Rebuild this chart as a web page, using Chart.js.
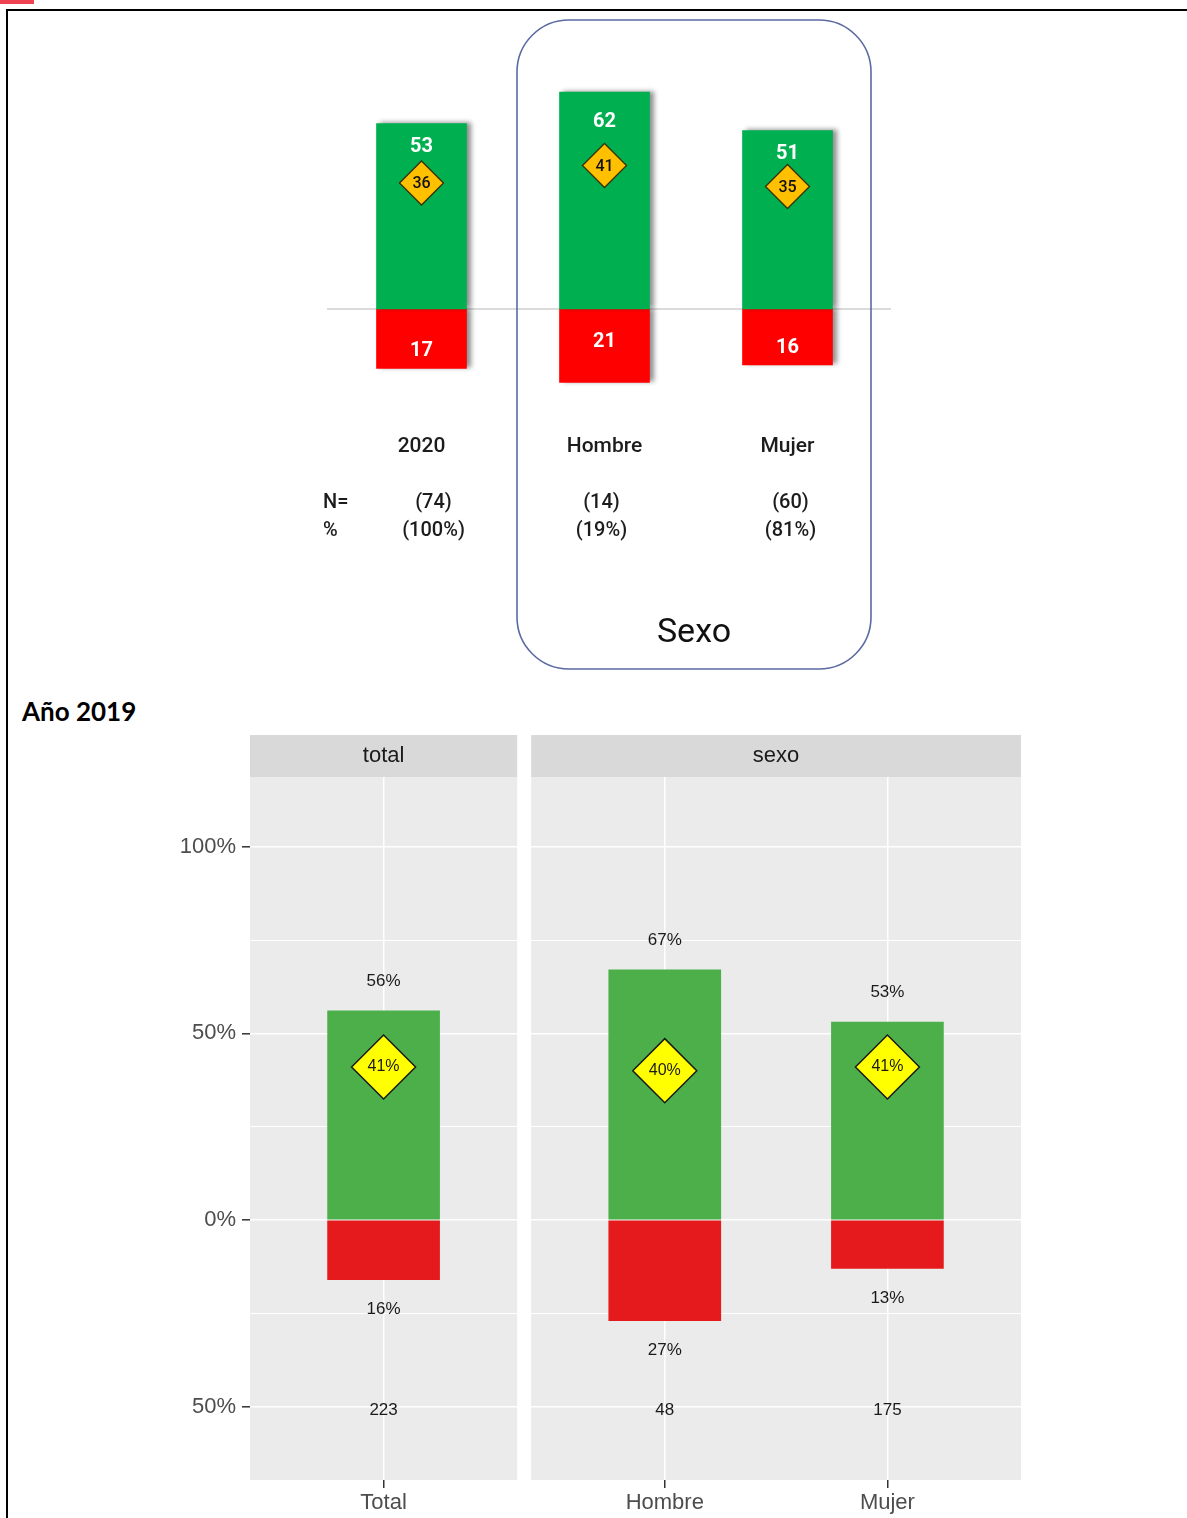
<!DOCTYPE html>
<html>
<head>
<meta charset="utf-8">
<script src="https://cdn.jsdelivr.net/npm/chart.js@4.4.0/dist/chart.umd.min.js"></script>
<style>
  html, body { margin: 0; padding: 0; background: #ffffff; }
  body { width: 1187px; height: 1518px; position: relative; overflow: hidden; }
  .abs { position: absolute; }
  #title2019 { left: 22px; top: 695px; font-family: Lato, "Open Sans", sans-serif; font-weight: bold;
               font-size: 26px; line-height: 32px; color: #000; white-space: nowrap; }
</style>
</head>
<body>
<div class="abs" style="left:0;top:0;width:34px;height:4px;background:#ef4352"></div>
<div class="abs" style="left:6px;top:9px;width:1181px;height:2px;background:#000"></div>
<div class="abs" style="left:6px;top:9px;width:2px;height:1509px;background:#000"></div>
<canvas id="c2020" class="abs" style="left:0;top:0" width="1187" height="690"></canvas>
<div id="title2019" class="abs">Año 2019</div>
<canvas id="c2019" class="abs" style="left:0;top:690px" width="1187" height="828"></canvas>
<script>
// ---------------- DATA: 2020 ----------------
const topCategories = ['2020', 'Hombre', 'Mujer'];
const topFavorable = [53, 62, 51];
const topUnfavorable = [17, 21, 16];
const topDiamond = [36, 41, 35];
const topN = [74, 14, 60];
const topShare = [100, 19, 81];
const topGroupTitle = 'Sexo';

// ---------------- DATA: 2019 ----------------
const cats2019 = ['Total', 'Hombre', 'Mujer'];
const facetOf2019 = [0, 1, 1];
const facetNames2019 = ['total', 'sexo'];
const fav2019 = [56, 67, 53];
const unfav2019 = [16, 27, 13];
const diamond2019 = [41, 40, 41];
const n2019 = [223, 48, 175];
const yTicks2019 = [-50, -25, 0, 25, 50, 75, 100];

// ---------------- LAYOUT (2020) ----------------
const TOP = { W: 1187, H: 690, left: 330, right: 879, top: 64, bottom: 414 };
const greenLabelDy = [23, 30, 23];
const redLabelDy = [-18, -41, -17];
const nColDx = [12, -3, 3];
const topFont = 'Roboto, "Noto Sans", sans-serif';
const topText = '#1c1c1c';

const topPlugin = {
  id: 'topDeco',
  beforeDatasetsDraw(chart) {
    const ctx = chart.ctx;
    const y0 = chart.scales.y.getPixelForValue(0);
    ctx.save();
    ctx.strokeStyle = '#cfcfcf';
    ctx.lineWidth = 1.5;
    ctx.beginPath();
    ctx.moveTo(chart.chartArea.left - 3, y0);
    ctx.lineTo(chart.chartArea.right + 12, y0);
    ctx.stroke();
    ctx.restore();
  },
  beforeDatasetDraw(chart, args) {
    if (args.index < 2) {
      const c = chart.ctx;
      c.save();
      c.shadowColor = 'rgba(0,0,0,0.45)';
      c.shadowBlur = 5;
      c.shadowOffsetX = 4;
      c.shadowOffsetY = -1;
    }
  },
  afterDatasetDraw(chart, args) {
    if (args.index < 2) chart.ctx.restore();
  },
  afterDraw(chart) {
    const { ctx, chartArea: a, scales: { x, y } } = chart;
    ctx.save();
    ctx.textAlign = 'center';
    ctx.textBaseline = 'middle';
    topCategories.forEach((cat, i) => {
      const px = x.getPixelForValue(i);
      ctx.fillStyle = '#ffffff';
      ctx.font = 'bold 20px ' + topFont;
      ctx.fillText(String(topFavorable[i]), px, y.getPixelForValue(topFavorable[i]) + greenLabelDy[i]);
      ctx.fillText(String(topUnfavorable[i]), px, y.getPixelForValue(-topUnfavorable[i]) + redLabelDy[i]);
      ctx.fillStyle = '#111111';
      ctx.font = '500 16px ' + topFont;
      ctx.fillText(String(topDiamond[i]), px, y.getPixelForValue(topDiamond[i]) + 1);
      ctx.fillStyle = topText;
      ctx.font = '500 21px ' + topFont;
      ctx.fillText(cat, px, a.bottom + 33);
      ctx.font = '500 20px ' + topFont;
      ctx.fillText('(' + topN[i] + ')', px + nColDx[i], a.bottom + 89);
      ctx.fillText('(' + topShare[i] + '%)', px + nColDx[i], a.bottom + 117);
    });
    ctx.textAlign = 'left';
    ctx.fillText('N=', 323, a.bottom + 89);
    ctx.fillText('%', 323, a.bottom + 117);
    const bx = 517, by = 20, bw = 354, bh = 649, r = 52;
    ctx.strokeStyle = '#5b6aa3';
    ctx.lineWidth = 1.6;
    ctx.beginPath();
    ctx.moveTo(bx + r, by);
    ctx.lineTo(bx + bw - r, by);
    ctx.arcTo(bx + bw, by, bx + bw, by + r, r);
    ctx.lineTo(bx + bw, by + bh - r);
    ctx.arcTo(bx + bw, by + bh, bx + bw - r, by + bh, r);
    ctx.lineTo(bx + r, by + bh);
    ctx.arcTo(bx, by + bh, bx, by + bh - r, r);
    ctx.lineTo(bx, by + r);
    ctx.arcTo(bx, by, bx + r, by, r);
    ctx.closePath();
    ctx.stroke();
    ctx.textAlign = 'center';
    ctx.fillStyle = '#111111';
    ctx.font = '400 34px ' + topFont;
    ctx.fillText(topGroupTitle, bx + bw / 2, 633);
    ctx.restore();
  }
};

new Chart(document.getElementById('c2020'), {
  type: 'bar',
  data: {
    labels: topCategories,
    datasets: [
      { data: topFavorable, backgroundColor: '#00b050', barThickness: 90, grouped: false, order: 2 },
      { data: topUnfavorable.map(v => -v), backgroundColor: '#ff0000', barThickness: 90, grouped: false, order: 2 },
      { type: 'line', data: topDiamond, showLine: false, pointStyle: 'rectRot', pointRadius: 22,
        pointBackgroundColor: '#ffc000', pointBorderColor: '#3a2e00', pointBorderWidth: 1.3, order: 1 }
    ]
  },
  options: {
    responsive: false, animation: false, devicePixelRatio: 1, events: [],
    layout: { padding: { left: TOP.left, right: TOP.W - TOP.right, top: TOP.top, bottom: TOP.H - TOP.bottom } },
    plugins: { legend: { display: false }, tooltip: { enabled: false } },
    scales: {
      x: { display: false },
      y: { display: false, min: -30, max: 70 }
    }
  },
  plugins: [topPlugin]
});

// ---------------- LAYOUT (2019) ----------------
const B = { W: 1187, H: 828, left: 250, right: 1021, top: 87, yAxisW: 100, xAxisH: 38 };
const PX_PER_UNIT = 222.6;
const GAP_UNITS = 14 / PX_PER_UNIT;
const EXPAND = 0.6;
const FACET_SHIFT = 2 * EXPAND - 1 + GAP_UNITS;
const x2019 = cats2019.map((c, i) => i + facetOf2019[i] * FACET_SHIFT);
const Y_MIN = -69.65, Y_MAX = 118.67;
const LABEL_OFFSET = 8;
const N_LABEL_Y = -51;
const ggFont = '"Liberation Sans", Arial, sans-serif';

const bottomPlugin = {
  id: 'facets',
  beforeDraw(chart) {
    const { ctx, chartArea: a, scales: { x } } = chart;
    ctx.save();
    facetNames2019.forEach((name, f) => {
      const xs = x2019.filter((_, i) => facetOf2019[i] === f);
      const l = x.getPixelForValue(Math.min(...xs) - EXPAND);
      const r = x.getPixelForValue(Math.max(...xs) + EXPAND);
      ctx.fillStyle = '#ebebeb';
      ctx.fillRect(l, a.top, r - l, a.bottom - a.top);
      ctx.fillStyle = '#d9d9d9';
      ctx.fillRect(l, a.top - 42, r - l, 42);
      ctx.fillStyle = '#1a1a1a';
      ctx.font = '22px ' + ggFont;
      ctx.textAlign = 'center';
      ctx.textBaseline = 'middle';
      ctx.fillText(name, (l + r) / 2, a.top - 21);
    });
    ctx.restore();
  },
  afterDatasetsDraw(chart) {
    const { ctx, scales: { x, y } } = chart;
    ctx.save();
    ctx.textAlign = 'center';
    ctx.textBaseline = 'middle';
    ctx.fillStyle = '#1a1a1a';
    x2019.forEach((xv, i) => {
      const px = x.getPixelForValue(xv);
      ctx.font = '17px ' + ggFont;
      ctx.fillText(fav2019[i] + '%', px, y.getPixelForValue(fav2019[i] + LABEL_OFFSET));
      ctx.fillText(unfav2019[i] + '%', px, y.getPixelForValue(-unfav2019[i] - LABEL_OFFSET));
      ctx.fillText(String(n2019[i]), px, y.getPixelForValue(N_LABEL_Y));
      ctx.font = '16px ' + ggFont;
      ctx.fillText(diamond2019[i] + '%', px, y.getPixelForValue(diamond2019[i]));
    });
    ctx.restore();
  }
};

const isMajor = v => v % 50 === 0;

new Chart(document.getElementById('c2019'), {
  type: 'bar',
  data: {
    datasets: [
      { data: x2019.map((xv, i) => ({ x: xv, y: fav2019[i] })), backgroundColor: '#4daf4a',
        barThickness: 112, grouped: false, order: 2 },
      { data: x2019.map((xv, i) => ({ x: xv, y: -unfav2019[i] })), backgroundColor: '#e41a1c',
        barThickness: 112, grouped: false, order: 2 },
      { type: 'scatter', data: x2019.map((xv, i) => ({ x: xv, y: diamond2019[i] })), pointStyle: 'rectRot',
        pointRadius: 32, backgroundColor: '#ffff00', borderColor: '#1a1a1a', borderWidth: 1.5, order: 1 }
    ]
  },
  options: {
    responsive: false, animation: false, devicePixelRatio: 1, events: [],
    layout: { padding: { left: B.left - B.yAxisW, right: B.W - B.right, top: B.top, bottom: 0 } },
    plugins: { legend: { display: false }, tooltip: { enabled: false } },
    scales: {
      x: {
        type: 'linear', offset: false,
        min: x2019[0] - EXPAND, max: x2019[x2019.length - 1] + EXPAND,
        afterBuildTicks: s => { s.ticks = x2019.map(v => ({ value: v })); },
        afterFit: s => { s.height = B.xAxisH; },
        ticks: { autoSkip: false, maxRotation: 0, minRotation: 0, padding: 2, color: '#4d4d4d',
                 font: { family: ggFont, size: 22 }, callback: (v, i) => cats2019[i] },
        grid: { offset: false, color: '#ffffff', lineWidth: 1.5, tickColor: '#333333', tickLength: 8, tickWidth: 1.5 },
        border: { display: false }
      },
      y: {
        type: 'linear', min: Y_MIN, max: Y_MAX,
        afterBuildTicks: s => { s.ticks = yTicks2019.map(v => ({ value: v })); },
        afterFit: s => { s.width = B.yAxisW; },
        ticks: { padding: 6, color: '#4d4d4d', font: { family: ggFont, size: 22 },
                 callback: v => isMajor(v) ? Math.abs(v) + '%' : '' },
        grid: {
          color: '#ffffff',
          lineWidth: c => (c.tick && isMajor(c.tick.value)) ? 1.6 : 1.0,
          tickColor: c => (c.tick && isMajor(c.tick.value)) ? '#333333' : 'rgba(0,0,0,0)',
          tickLength: 8, tickWidth: 1.5
        },
        border: { display: false }
      }
    }
  },
  plugins: [bottomPlugin]
});
</script>
</body>
</html>
